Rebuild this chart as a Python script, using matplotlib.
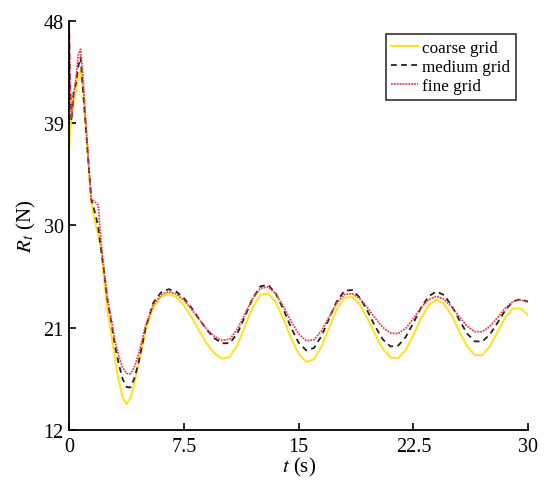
import matplotlib
matplotlib.use("Agg")
import matplotlib.pyplot as plt

plt.rcParams['font.family'] = ['Liberation Serif', 'DejaVu Serif']
plt.rcParams['mathtext.fontset'] = 'stix'

t = [0, 0.05, 0.15, 0.3, 0.45, 0.6, 0.75, 0.9, 1.1, 1.3, 1.45, 1.6, 1.75, 1.9,
     2.1, 2.3, 2.5, 2.75, 3.0, 3.25, 3.5, 3.75, 4.0, 4.25, 4.5, 4.75, 5.0, 5.5,
     6.0, 6.5, 7.0, 7.5, 8.0, 8.5, 9.0, 9.5, 10.0, 10.5, 11.0, 11.5, 12.0, 12.5,
     13.0, 13.5, 14.0, 14.5, 15.0, 15.5, 16.0, 16.5, 17.0, 17.5, 18.0, 18.5,
     19.0, 19.5, 20.0, 20.5, 21.0, 21.5, 22.0, 22.5, 23.0, 23.5, 24.0, 24.5,
     25.0, 25.5, 26.0, 26.5, 27.0, 27.5, 28.0, 28.5, 29.0, 29.5, 30.0]

coarse = [36.5, 38.0, 39.5, 40.8, 41.8, 43.0, 43.6, 42.0, 38.5, 34.8, 32.0, 30.9,
          30.0, 29.2, 27.8, 25.0, 22.6, 20.5, 18.2, 16.3, 14.9, 14.3, 14.8, 16.0,
          17.6, 19.2, 20.8, 22.8, 23.7, 23.97, 23.71, 22.99, 21.93, 20.74, 19.6,
          18.74, 18.29, 18.44, 19.5, 21.16, 22.82, 23.9,
          24.03, 23.24, 21.79, 20.11, 18.71, 18.0, 18.23, 19.38, 21.06, 22.67,
          23.66, 23.72, 23.03, 21.82, 20.40, 19.14, 18.38, 18.32, 19.05, 20.37,
          21.84, 23.0, 23.47, 23.11, 22.07, 20.67, 19.38, 18.6, 18.6, 19.39,
          20.65, 21.91, 22.7, 22.7, 22.1]

medium = [47.8, 43.0, 39.2, 41.8, 42.5, 44.0, 44.8, 42.1, 38.5, 34.9, 32.3, 31.6,
          30.8, 29.9, 27.8, 25.8, 23.5, 21.6, 19.4, 17.8, 16.5, 15.8, 15.75, 16.5,
          17.7, 19.3, 21.0, 23.2, 24.1, 24.4, 24.19, 23.61, 22.76, 21.77, 20.83,
          20.08, 19.64, 19.65, 20.52, 22.03, 23.60, 24.65,
          24.78, 24.03, 22.64, 21.03, 19.69, 19.01, 19.23, 20.30, 21.85, 23.35,
          24.27, 24.32, 23.64, 22.47, 21.12, 19.98, 19.36, 19.43, 20.20, 21.44,
          22.77, 23.78, 24.2, 23.88, 22.94, 21.68, 20.51, 19.81, 19.80, 20.42,
          21.46, 22.54, 23.32, 23.52, 23.3]

fine = [48.0, 43.0, 39.5, 41.5, 43.0, 45.0, 45.5, 43.2, 39.0, 35.0, 32.3, 32.2,
        32.0, 31.8, 28.4, 25.9, 23.7, 21.8, 19.8, 18.5, 17.5, 17.0, 16.95, 17.5,
        18.5, 19.8, 21.2, 23.0, 23.9, 24.17, 23.97, 23.43, 22.64, 21.73, 20.88,
        20.23, 19.89, 20.01, 20.89, 22.24, 23.60, 24.48,
        24.60, 24.0, 22.89, 21.58, 20.47, 19.86, 19.94, 20.75, 21.98, 23.20,
        23.95, 24.0, 23.56, 22.77, 21.85, 21.03, 20.54, 20.49, 20.97, 21.82,
        22.77, 23.49, 23.77, 23.52, 22.84, 21.96, 21.15, 20.66, 20.66, 21.13,
        21.91, 22.73, 23.31, 23.46, 23.25]

xticks = [0, 7.5, 15, 22.5, 30]
xtick_labels = ['0', '7.5', '15', '22.5', '30']
yticks = [12, 21, 30, 39, 48]

fig = plt.figure(figsize=(5.44, 4.85), dpi=100)
ax = fig.add_axes([0.127, 0.111, 0.844, 0.844])

ax.plot(t, coarse, color='#FFE21A', lw=1.4, label='coarse grid')
ax.plot(t, medium, color='#222222', lw=1.3, linestyle=(0, (3.2, 2.4)), label='medium grid')
ax.plot(t, fine, color='#E8404F', lw=1.3, linestyle=(0, (1, 0.6)), label='fine grid')

ax.set_xlim(0, 30)
ax.set_ylim(12, 48)
ax.set_xticks(xticks)
ax.set_xticklabels(xtick_labels)
ax.set_yticks(yticks)
ax.spines['top'].set_visible(False)
ax.spines['right'].set_visible(False)
for s in ['left', 'bottom']:
    ax.spines[s].set_linewidth(1.3)
ax.tick_params(direction='in', length=5, width=1.2, labelsize=14.5)
ax.tick_params(axis='x', pad=5)
ax.tick_params(axis='y', pad=4)

ax.set_xlabel(r'$t$ (s)', fontsize=15, labelpad=-1)
ax.set_ylabel(r'$R_t$ (N)', fontsize=15, labelpad=4)

leg = ax.legend(loc='upper right', bbox_to_anchor=(0.98, 0.975), fontsize=12.3,
                frameon=True, fancybox=False, edgecolor='black',
                handlelength=1.6, handletextpad=0.25, borderpad=0.3,
                labelspacing=0.2, borderaxespad=0.2)
leg.get_frame().set_linewidth(1.2)

fig.savefig('out.png', dpi=100)
